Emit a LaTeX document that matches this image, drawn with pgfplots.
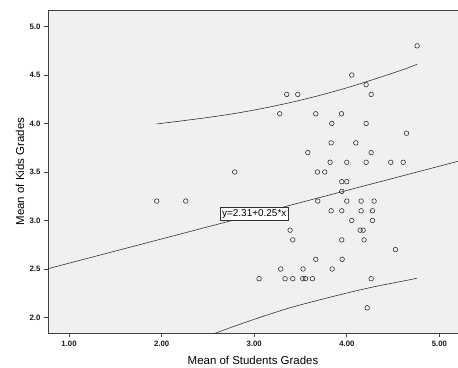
\documentclass[border=0pt]{standalone}
\usepackage{fontspec}
\setmainfont{Liberation Sans}
\usepackage{pgfplots}
\pgfplotsset{compat=1.18}
\definecolor{bgfill}{RGB}{240,240,240}
\definecolor{axgray}{RGB}{64,64,64}
\begin{document}
\begin{tikzpicture}
\path[use as bounding box] (-48bp,-35bp) rectangle (410bp,333bp);
\begin{axis}[
  scale only axis,
  width=410bp, height=323bp,
  xmin=0.773, xmax=5.2, ymin=1.84, ymax=5.17,
  axis background/.style={fill=bgfill},
  separate axis lines,
  axis x line*=bottom, axis y line*=left,
  axis line style={axgray, line width=0.8pt},
  xtick={1,2,3,4,5}, ytick={2,2.5,3,3.5,4,4.5,5},
  xticklabels={1.00,2.00,3.00,4.00,5.00},
  yticklabels={2.0,2.5,3.0,3.5,4.0,4.5,5.0},
  tick align=outside, major tick length=4bp,
  tick style={axgray, line width=0.8pt},
  /pgf/number format/assume math mode=true,
  ticklabel style={font=\fontsize{7.8}{9}\selectfont\bfseries, text=black!90},
  xticklabel style={yshift=-1bp},
  xlabel={Mean of Students Grades},
  ylabel={Mean of Kids Grades},
  label style={font=\fontsize{11.5}{13}\selectfont},
  xlabel style={at={(axis description cs:0.5,-0.0836)}, anchor=center},
  ylabel style={at={(axis description cs:-0.0683,0.5)}, anchor=center, rotate=0},
  clip=true,
]
\draw[axgray, line width=0.8pt] (rel axis cs:0,1) -- (rel axis cs:1,1);
% regression line
\addplot[black!80, line width=0.6pt] coordinates {(0.773,2.503) (5.2,3.61)};
% upper prediction limit
\addplot[black!80, line width=0.6pt, smooth] coordinates {
(1.947,3.995) (2.2,4.025) (2.5,4.062) (2.8,4.105) (3.1,4.157) (3.4,4.218)
(3.7,4.288) (4.0,4.368) (4.3,4.458) (4.6,4.553) (4.759,4.610)};
% lower prediction limit
\addplot[black!80, line width=0.6pt, smooth] coordinates {
(1.947,1.595) (2.2,1.696) (2.5,1.809) (2.8,1.915) (3.1,2.013) (3.4,2.104)
(3.7,2.180) (4.0,2.252) (4.3,2.318) (4.6,2.374) (4.759,2.405)};
% data
\addplot[only marks, mark=o, mark size=2.3bp, mark options={draw=black!85, line width=0.55pt}] coordinates {
(4.759,4.8) (4.053,4.5) (4.208,4.4) (4.262,4.3) (3.351,4.3) (3.470,4.3)
(3.275,4.1) (3.664,4.1) (3.942,4.1) (3.837,4.0) (4.208,4.0) (4.644,3.9)
(3.830,3.8) (4.096,3.8) (3.578,3.7) (4.262,3.7) (3.819,3.6) (3.999,3.6)
(4.208,3.6) (4.474,3.6) (4.608,3.6) (2.789,3.5) (3.682,3.5) (3.761,3.5)
(3.945,3.4) (3.999,3.4) (3.945,3.3) (1.947,3.2) (2.260,3.2) (3.686,3.2)
(3.999,3.2) (4.154,3.2) (4.294,3.2) (3.830,3.1) (3.945,3.1) (4.154,3.1)
(4.276,3.1) (4.053,3.0) (4.276,3.0) (3.387,2.9) (4.143,2.9) (4.176,2.9)
(3.416,2.8) (3.945,2.8) (4.186,2.8) (4.525,2.7) (3.664,2.6) (3.949,2.6)
(3.286,2.5) (3.527,2.5) (3.841,2.5) (3.052,2.4) (3.333,2.4) (3.416,2.4)
(3.524,2.4) (3.553,2.4) (3.628,2.4) (4.262,2.4) (4.219,2.1)};
\node[draw=black!80, fill=white, line width=0.6pt, inner sep=2bp, font=\fontsize{10}{11}\selectfont] at (axis cs:3.0,3.065) {y=2.31+0.25*x};
\end{axis}
\end{tikzpicture}
\end{document}
